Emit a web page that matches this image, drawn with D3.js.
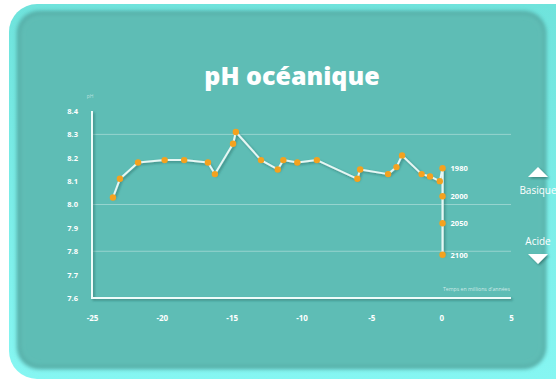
<!DOCTYPE html>
<html>
<head>
<meta charset="utf-8">
<script src="https://cdn.jsdelivr.net/npm/d3@7"></script>
<style>
  html, body { margin: 0; padding: 0; background: #ffffff; }
  svg { display: block; }
  text { font-family: "Open Sans", Lato, sans-serif; }
</style>
</head>
<body>
<svg id="chart" width="556" height="382"></svg>
<script>
// Reconstructed ocean pH over the last 25 million years (time in Ma)
const pastAges = [-23.5, -23.0, -21.7, -19.8, -18.4, -16.7, -16.2, -14.9, -14.7, -12.9, -11.7, -11.3,
                  -10.3, -8.9, -6.0, -5.8, -3.8, -3.2, -2.8, -1.4, -0.8, -0.1];
const pastPH   = [8.03, 8.11, 8.18, 8.19, 8.19, 8.18, 8.13, 8.26, 8.31, 8.19, 8.15, 8.19,
                  8.18, 8.19, 8.11, 8.15, 8.13, 8.16, 8.21, 8.13, 8.12, 8.10];
// Recent measurements and projections, stacked at the present day
const recentYears = ["1980", "2000", "2050", "2100"];
const recentPH    = [8.155, 8.035, 7.92, 7.785];
const recentAge   = 0.1;
// Axes
const xTicks = [-25, -20, -15, -10, -5, 0, 5];
const yTicks = [7.6, 7.7, 7.8, 7.9, 8.0, 8.1, 8.2, 8.3, 8.4];
const gridValues = [8.3, 8.0, 7.8];

const svg = d3.select("#chart");
const defs = svg.append("defs");

const shadow = defs.append("filter").attr("id", "shadow")
  .attr("x", "-20%").attr("y", "-20%").attr("width", "140%").attr("height", "140%");
shadow.append("feDropShadow").attr("dx", 1.5).attr("dy", 1.5).attr("stdDeviation", 1)
  .attr("flood-color", "#1d5b57").attr("flood-opacity", 0.55);

const rimGrad = defs.append("linearGradient").attr("id", "rim").attr("x1", 0).attr("y1", 0).attr("x2", 0).attr("y2", 1);
rimGrad.append("stop").attr("offset", "0%").attr("stop-color", "#6fe3dc");
rimGrad.append("stop").attr("offset", "100%").attr("stop-color", "#86f6f2");

const soft = defs.append("filter").attr("id", "soft");
soft.append("feGaussianBlur").attr("stdDeviation", 2.2);

// Panel
svg.append("rect").attr("x", 9).attr("y", 4).attr("width", 580).attr("height", 375).attr("rx", 28)
  .attr("fill", "url(#rim)");
svg.append("rect").attr("x", 17).attr("y", 11).attr("width", 529).attr("height", 358).attr("rx", 22)
  .attr("fill", "#54aaa4").attr("filter", "url(#soft)");
svg.append("rect").attr("x", 20).attr("y", 14).attr("width", 524).attr("height", 352).attr("rx", 20)
  .attr("fill", "#5ebdb5").attr("filter", "url(#soft)");
svg.append("rect").attr("x", 26).attr("y", 20).attr("width", 512).attr("height", 340).attr("rx", 16)
  .attr("fill", "#5ebdb5");

// Title
svg.append("text").attr("x", 292).attr("y", 85).attr("text-anchor", "middle")
  .attr("fill", "#ffffff").attr("font-size", 25).attr("font-weight", 800)
  .text("pH océanique");

const x = d3.scaleLinear().domain([-25, 5]).range([92, 511]);
const y = d3.scaleLinear().domain([7.6, 8.4]).range([298, 111]);

// Grid lines
svg.append("g").selectAll("line").data(gridValues).join("line")
  .attr("x1", x(-25)).attr("x2", x(5))
  .attr("y1", d => y(d)).attr("y2", d => y(d))
  .attr("stroke", "#ffffff").attr("stroke-opacity", 0.35).attr("stroke-width", 1);

// Axis lines
const axes = svg.append("g").attr("filter", "url(#shadow)")
  .attr("stroke", "#eefcfa").attr("stroke-width", 2).attr("fill", "none");
axes.append("path").attr("d", `M${x(-25)},${y(8.4)}V${y(7.6)}H${x(5)}`);

// Tick labels
const xAxis = d3.axisBottom(x).tickValues(xTicks).tickSize(0).tickPadding(0)
  .tickFormat(d => d < 0 ? "-" + Math.abs(d) : String(d));
const xg = svg.append("g").attr("transform", `translate(0,${y(7.6) + 17})`).call(xAxis);
xg.select(".domain").remove();
xg.selectAll("text").attr("fill", "#ffffff").attr("font-size", 8).attr("font-weight", 700)
  .attr("font-family", "Open Sans, sans-serif");

const yAxis = d3.axisLeft(y).tickValues(yTicks).tickSize(0).tickPadding(0)
  .tickFormat(d3.format(".1f"));
const yg = svg.append("g").attr("transform", `translate(${x(-25) - 14},0)`).call(yAxis);
yg.select(".domain").remove();
yg.selectAll("text").attr("fill", "#ffffff").attr("font-size", 7.5).attr("font-weight", 700)
  .attr("font-family", "Open Sans, sans-serif");

// Axis titles
svg.append("text").attr("x", x(-25) - 2).attr("y", 98).attr("text-anchor", "middle")
  .attr("fill", "#ffffff").attr("fill-opacity", 0.55).attr("font-size", 5).text("pH");
svg.append("text").attr("x", x(5) - 1).attr("y", 291).attr("text-anchor", "end")
  .attr("fill", "#ffffff").attr("fill-opacity", 0.7).attr("font-size", 5.2)
  .text("Temps en millions d'années");

// Data line
const past = pastAges.map((a, i) => ({ age: a, ph: pastPH[i] }));
const recent = recentPH.map((p, i) => ({ age: recentAge, ph: p, year: recentYears[i] }));
const line = d3.line().x(d => x(d.age)).y(d => y(d.ph)).curve(d3.curveLinear);

const lineGroup = svg.append("g").attr("filter", "url(#shadow)");
lineGroup.append("path").datum(past.concat([recent[0]]))
  .attr("d", line).attr("fill", "none").attr("stroke", "#e6f7f4").attr("stroke-width", 2)
  .attr("stroke-linejoin", "round");
lineGroup.append("path").datum(recent)
  .attr("d", line).attr("fill", "none").attr("stroke", "#e6f7f4").attr("stroke-width", 2.2);

// Points
svg.append("g").selectAll("circle").data(past.concat(recent)).join("circle")
  .attr("cx", d => x(d.age)).attr("cy", d => y(d.ph)).attr("r", 3.2)
  .attr("fill", "#f4a21f");

// Year labels
svg.append("g").selectAll("text").data(recent).join("text")
  .attr("x", x(recentAge) + 8).attr("y", d => y(d.ph) + 3)
  .attr("fill", "#ffffff").attr("font-size", 7.5).attr("font-weight", 700)
  .text(d => d.year);

// Basic / acid indicators
const ind = svg.append("g").attr("filter", "url(#shadow)").attr("fill", "#ffffff");
ind.append("path").attr("d", "M528,177 L538,167 L548,177 Z");
ind.append("path").attr("d", "M528,254 L548,254 L538,264 Z");
svg.append("text").attr("x", 538).attr("y", 194).attr("text-anchor", "middle")
  .attr("fill", "#ffffff").attr("font-size", 10).text("Basique");
svg.append("text").attr("x", 538).attr("y", 245).attr("text-anchor", "middle")
  .attr("fill", "#ffffff").attr("font-size", 10).text("Acide");
</script>
</body>
</html>
